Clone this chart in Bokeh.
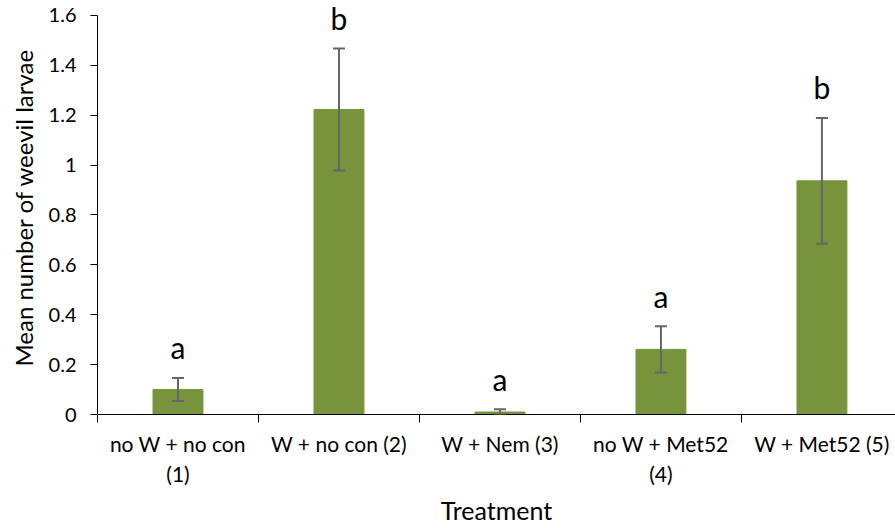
from bokeh.plotting import figure
from bokeh.models import (ColumnDataSource, Range1d, FixedTicker, Whisker,
                          LinearAxis, TeeHead, LabelSet)
from bokeh.core.properties import value
from bokeh.embed import file_html
from bokeh.resources import INLINE

# Treatments, means and standard errors
treatments = ["no W + no con\n(1)", "W + no con (2)", "W + Nem (3)",
              "no W + Met52\n(4)", "W + Met52 (5)"]
means = [0.10, 1.223, 0.01, 0.261, 0.937]
errors = [0.046, 0.245, 0.011, 0.093, 0.252]
letters = ["a", "b", "a", "a", "b"]
y_ticks = [0, 0.2, 0.4, 0.6, 0.8, 1, 1.2, 1.4, 1.6]

FONT = "Lato"
BAR = "#77933C"
ERR = "#666666"
INK = "#000000"

xs = [i + 0.5 for i in range(len(treatments))]
src = ColumnDataSource(dict(
    x=xs,
    mean=means,
    upper=[m + e for m, e in zip(means, errors)],
    lower=[m - e for m, e in zip(means, errors)],
    letter=letters,
    ly=[m + e + 0.075 for m, e in zip(means, errors)],
))

# a little headroom above 1.6 so the letters over the tallest bar fit
p = figure(width=895, height=528, output_backend="svg", toolbar_location=None,
           x_range=Range1d(0, 4.957), y_range=Range1d(0, 1.66),
           min_border_left=97, min_border_right=0, min_border_top=0,
           min_border_bottom=114, x_axis_type=None)
p.outline_line_color = None
p.xgrid.visible = False
p.ygrid.visible = False

p.vbar(x="x", top="mean", width=0.31, bottom=0, source=src,
       fill_color=BAR, line_color=BAR)

# standard error bars drawn on top of the bars
p.add_layout(Whisker(base="x", upper="upper", lower="lower", source=src,
                     line_color=ERR, line_width=2, level="overlay",
                     upper_head=TeeHead(size=12, line_color=ERR, line_width=2),
                     lower_head=TeeHead(size=12, line_color=ERR, line_width=2)))

# significance letters
p.add_layout(LabelSet(x="x", y="ly", text="letter", source=src,
                      text_align="center", text_baseline="alphabetic",
                      text_font=value(FONT), text_font_size="30px",
                      text_color=INK, level="overlay"))

# y axis, drawn only from 0 to 1.6
ya = p.yaxis[0]
ya.ticker = FixedTicker(ticks=y_ticks)
ya.bounds = (0, 1.6)
ya.major_label_overrides = {0: "0", 1: "1"}
ya.axis_label = "Mean number of weevil larvae"
ya.axis_label_text_font = FONT
ya.axis_label_text_font_style = "normal"
ya.axis_label_text_font_size = "24px"
ya.axis_label_text_color = INK
ya.axis_label_standoff = 8
ya.major_label_text_font = FONT
ya.major_label_text_font_size = "20px"
ya.major_label_text_color = INK
ya.major_label_standoff = 14
ya.major_tick_in = 0
ya.major_tick_out = 7
ya.minor_tick_line_color = None
ya.axis_line_color = INK
ya.major_tick_line_color = INK

# x axis: labels centred on bars, tick marks at the category boundaries
xa = LinearAxis(ticker=FixedTicker(ticks=xs, minor_ticks=[0, 1, 2, 3, 4, 5]))
xa.major_label_overrides = {x: t for x, t in zip(xs, treatments)}
xa.major_tick_line_color = None
xa.major_tick_out = 0
xa.major_tick_in = 0
xa.minor_tick_in = 0
xa.minor_tick_out = 8
xa.minor_tick_line_color = INK
xa.axis_line_color = INK
xa.major_label_text_font = FONT
xa.major_label_text_font_size = "21px"
xa.major_label_text_line_height = 1.2
xa.major_label_text_color = INK
xa.major_label_standoff = 8
xa.axis_label = "Treatment"
xa.axis_label_text_font = FONT
xa.axis_label_text_font_style = "normal"
xa.axis_label_text_font_size = "25px"
xa.axis_label_text_color = INK
xa.axis_label_standoff = 6
p.add_layout(xa, "below")

open("out.html", "w").write(file_html(p, INLINE))
